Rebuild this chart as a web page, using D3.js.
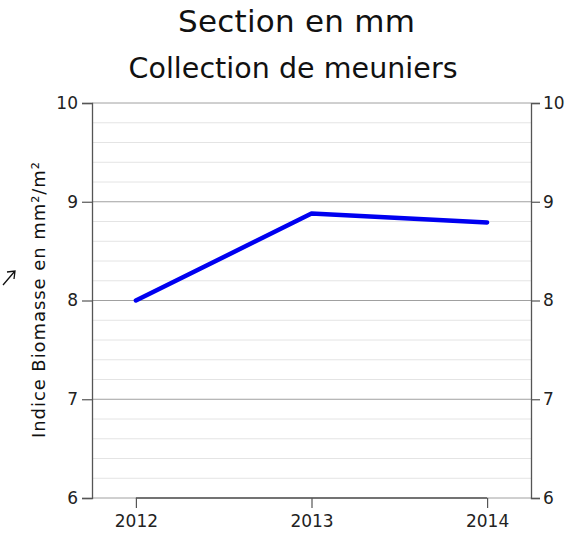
<!DOCTYPE html>
<html>
<head>
<meta charset="utf-8">
<script src="https://cdn.jsdelivr.net/npm/d3@7"></script>
<style>
  body { margin: 0; background: #fff; }
  svg { font-family: "DejaVu Sans", sans-serif; }
</style>
</head>
<body>
<div id="chart"></div>
<script>
// data
const years = ["2012", "2013", "2014"];
const values = [8.0, 8.88, 8.79];
const yTicks = [6, 7, 8, 9, 10];

const width = 575, height = 533;
const margin = {top: 103, right: 44, bottom: 35, left: 92};

const svg = d3.select("#chart").append("svg")
  .attr("width", width)
  .attr("height", height);

const x = d3.scalePoint()
  .domain(years)
  .range([margin.left, width - margin.right])
  .padding(0.25);

const y = d3.scaleLinear()
  .domain([6, 10])
  .range([height - margin.bottom, margin.top]);

//minor grid every 0.2
const minor = d3.range(6, 10.001, 0.2).filter(v => Math.abs(v - Math.round(v)) > 0.01);
svg.append("g").selectAll("line")
  .data(minor)
  .enter().append("line")
  .attr("x1", margin.left).attr("x2", width - margin.right)
  .attr("y1", d => y(d)).attr("y2", d => y(d))
  .style("stroke", "#e4e4e4")
  .style("stroke-width", 1);

//major grid
svg.append("g").selectAll("line")
  .data(yTicks)
  .enter().append("line")
  .attr("x1", margin.left).attr("x2", width - margin.right)
  .attr("y1", d => y(d)).attr("y2", d => y(d))
  .style("stroke", "#a0a0a0")
  .style("stroke-width", 1);

//left & right axes
const leftAxis = svg.append("g")
  .attr("transform", "translate(" + margin.left + ",0)")
  .call(d3.axisLeft(y).tickValues(yTicks).tickSize(10).tickPadding(4).tickFormat(d3.format("d")));
const rightAxis = svg.append("g")
  .attr("transform", "translate(" + (width - margin.right) + ",0)")
  .call(d3.axisRight(y).tickValues(yTicks).tickSize(9).tickPadding(3).tickFormat(d3.format("d")));
const bottomAxis = svg.append("g")
  .attr("transform", "translate(0," + (height - margin.bottom) + ")")
  .call(d3.axisBottom(x).tickSize(10).tickPadding(7));

[leftAxis, rightAxis, bottomAxis].forEach(a => {
  a.select(".domain").style("stroke", "#555").style("stroke-width", 1.3);
  a.selectAll(".tick line").style("stroke", "#555").style("stroke-width", 1.2);
  a.selectAll("text").style("font-size", "17px").style("fill", "#222")
    .style("font-family", "'DejaVu Sans', sans-serif");
});
//bottom axis line only spans first to last year
bottomAxis.select(".domain")
  .attr("d", "M" + x(years[0]) + ",0H" + x(years[years.length - 1]));

//the line
const line = d3.line()
  .x((d, i) => x(years[i]))
  .y(d => y(d));

svg.append("path")
  .datum(values)
  .attr("d", line)
  .style("fill", "none")
  .style("stroke", "#0000f0")
  .style("stroke-width", 4.5)
  .style("stroke-linecap", "round")
  .style("stroke-linejoin", "round");

//titles
svg.append("text")
  .attr("x", 296.5).attr("y", 32)
  .attr("text-anchor", "middle")
  .attr("textLength", 237)
  .style("font-size", "31px").style("fill", "#111")
  .text("Section en mm");
svg.append("text")
  .attr("x", 293).attr("y", 78)
  .attr("text-anchor", "middle")
  .attr("textLength", 329)
  .style("font-size", "28.5px").style("fill", "#111")
  .text("Collection de meuniers");

//y label
svg.append("text")
  .attr("transform", "translate(45,300) rotate(-90)")
  .attr("text-anchor", "middle")
  .attr("textLength", 276)
  .style("font-size", "18px").style("fill", "#111")
  .text("Indice Biomasse en mm²/m²");

//stray arrow mark at the left edge
svg.append("path")
  .attr("d", "M3,285L15,271M7,272L15,271L14,279")
  .style("fill", "none")
  .style("stroke", "#111")
  .style("stroke-width", 1.3);
</script>
</body>
</html>
